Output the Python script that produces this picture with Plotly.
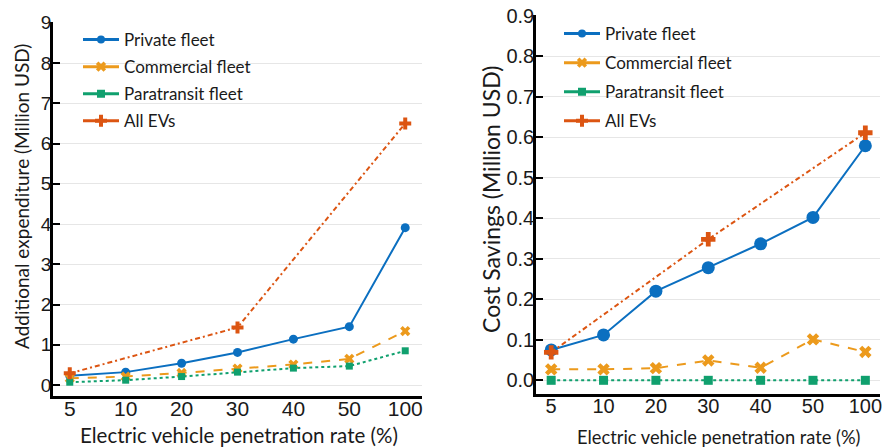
import plotly.graph_objects as go

categories = ["5", "10", "20", "30", "40", "50", "100"]
all_ev_categories = ["5", "30", "100"]

# Left panel: additional expenditure (Million USD)
exp_private = [0.23, 0.32, 0.54, 0.81, 1.14, 1.45, 3.91]
exp_commercial = [0.17, 0.21, 0.30, 0.41, 0.51, 0.65, 1.34]
exp_paratransit = [0.07, 0.12, 0.21, 0.32, 0.42, 0.47, 0.85]
exp_all = [0.29, 1.43, 6.50]

# Right panel: cost savings (Million USD)
sav_private = [0.075, 0.112, 0.220, 0.278, 0.337, 0.402, 0.579]
sav_commercial = [0.027, 0.027, 0.030, 0.049, 0.031, 0.101, 0.070]
sav_paratransit = [0.0, 0.0, 0.0, 0.0, 0.0, 0.0, 0.0]
sav_all = [0.069, 0.348, 0.611]

names = ["Private fleet", "Commercial fleet", "Paratransit fleet", "All EVs"]
colors = ["#0b6fc0", "#ec9a1c", "#10a06e", "#dc5512"]
symbols = ["circle", "x", "square", "cross"]
dashes = ["solid", "dash", "dot", "5px,3px,2px,3px"]

W, H = 886, 448


def px(x):
    return x / W


def py(y):
    return 1 - y / H


TICK_FONT = "Liberation Sans, Arial"
TEXT_FONT = "Lato, Open Sans, sans-serif"
INK = "#1a1a1a"

fig = go.Figure()

left_sets = [(categories, exp_private), (categories, exp_commercial),
             (categories, exp_paratransit), (all_ev_categories, exp_all)]
right_sets = [(categories, sav_private), (categories, sav_commercial),
              (categories, sav_paratransit), (all_ev_categories, sav_all)]
left_sizes = [9, 9, 7, 10]
right_sizes = [13, 11, 9, 12]
legend_sizes = [8, 9, 8, 10]

for panel, sets, sizes, xa, ya, lg in [
        ("L", left_sets, left_sizes, "x", "y", "legend"),
        ("R", right_sets, right_sizes, "x2", "y2", "legend2")]:
    for i, (xs, ys) in enumerate(sets):
        fig.add_trace(go.Scatter(
            x=xs, y=ys, name=names[i], mode="lines+markers", showlegend=False,
            line=dict(color=colors[i], width=2, dash=dashes[i]),
            marker=dict(symbol=symbols[i], size=sizes[i], color=colors[i],
                        line=dict(width=0)),
            xaxis=xa, yaxis=ya))
    # legend entries (solid lines as in the reference legend)
    for i in range(4):
        fig.add_trace(go.Scatter(
            x=[None], y=[None], name=names[i], mode="lines+markers",
            legendgroup=panel + str(i), showlegend=True,
            line=dict(color=colors[i], width=3, dash="solid"),
            marker=dict(symbol=symbols[i], size=legend_sizes[i], color=colors[i],
                        line=dict(width=0)),
            xaxis=xa, yaxis=ya, legend=lg))

common_x = dict(type="category", categoryorder="array", categoryarray=categories,
                showline=True, linecolor="black", linewidth=2.5, ticks="",
                showgrid=False, zeroline=False, automargin=False,
                ticklabelstandoff=-8, ticklabeloverflow="allow")
common_y = dict(showline=True, linecolor="black", linewidth=2.5, ticks="inside",
                ticklen=7, tickwidth=2, tickcolor="black", showgrid=True,
                gridcolor="#e6e6e6", gridwidth=1, zeroline=False, automargin=False,
                ticklabelstandoff=-5, ticklabeloverflow="allow")

fig.update_layout(
    width=W, height=H, margin=dict(l=0, r=0, t=0, b=0, autoexpand=False),
    paper_bgcolor="white", plot_bgcolor="white",
    xaxis=dict(common_x, domain=[px(53), px(422)], range=[-0.3, 6.3], anchor="y",
               tickfont=dict(family=TICK_FONT, size=21, color=INK)),
    yaxis=dict(common_y, domain=[py(396), py(22)], range=[-0.273, 9.02],
               dtick=1, tick0=0, anchor="x",
               tickfont=dict(family=TICK_FONT, size=19, color=INK)),
    xaxis2=dict(common_x, domain=[px(536), px(880)], range=[-0.29, 6.28], anchor="y2",
                tickfont=dict(family=TICK_FONT, size=20, color=INK)),
    yaxis2=dict(common_y, domain=[py(394), py(15)], range=[-0.0338, 0.9017],
                dtick=0.1, tick0=0, tickformat=".1f", anchor="x2",
                tickfont=dict(family=TICK_FONT, size=20, color=INK)),
    legend=dict(x=px(78), y=py(22), xanchor="left", yanchor="top",
                bgcolor="rgba(0,0,0,0)", borderwidth=0, itemwidth=36,
                tracegroupgap=2,
                font=dict(family=TEXT_FONT, size=17, color=INK)),
    legend2=dict(x=px(559), y=py(16), xanchor="left", yanchor="top",
                 bgcolor="rgba(0,0,0,0)", borderwidth=0, itemwidth=36,
                 tracegroupgap=4,
                 font=dict(family=TEXT_FONT, size=17, color=INK)),
    annotations=[
        dict(text="Electric vehicle penetration rate (%)", x=px(238.5), y=py(435),
             xref="paper", yref="paper", showarrow=False, xanchor="center", yanchor="middle",
             font=dict(family=TEXT_FONT, size=20.5, color=INK)),
        dict(text="Electric vehicle penetration rate (%)", x=px(718.5), y=py(437),
             xref="paper", yref="paper", showarrow=False, xanchor="center", yanchor="middle",
             font=dict(family=TEXT_FONT, size=18.3, color=INK)),
        dict(text="Additional expenditure (Million USD)", x=px(22), y=py(197),
             xref="paper", yref="paper", showarrow=False, xanchor="center", yanchor="middle",
             textangle=-90, font=dict(family=TEXT_FONT, size=19, color=INK)),
        dict(text="Cost Savings (Million USD)", x=px(491), y=py(200),
             xref="paper", yref="paper", showarrow=False, xanchor="center", yanchor="middle",
             textangle=-90, font=dict(family=TEXT_FONT, size=23, color=INK)),
    ],
)

fig.write_html(
    "out.html",
    config={"displayModeBar": False},
    post_script=("document.body.style.margin='0px';"
                 "document.body.style.overflow='hidden';"
                 "document.documentElement.style.overflow='hidden';"),
)
